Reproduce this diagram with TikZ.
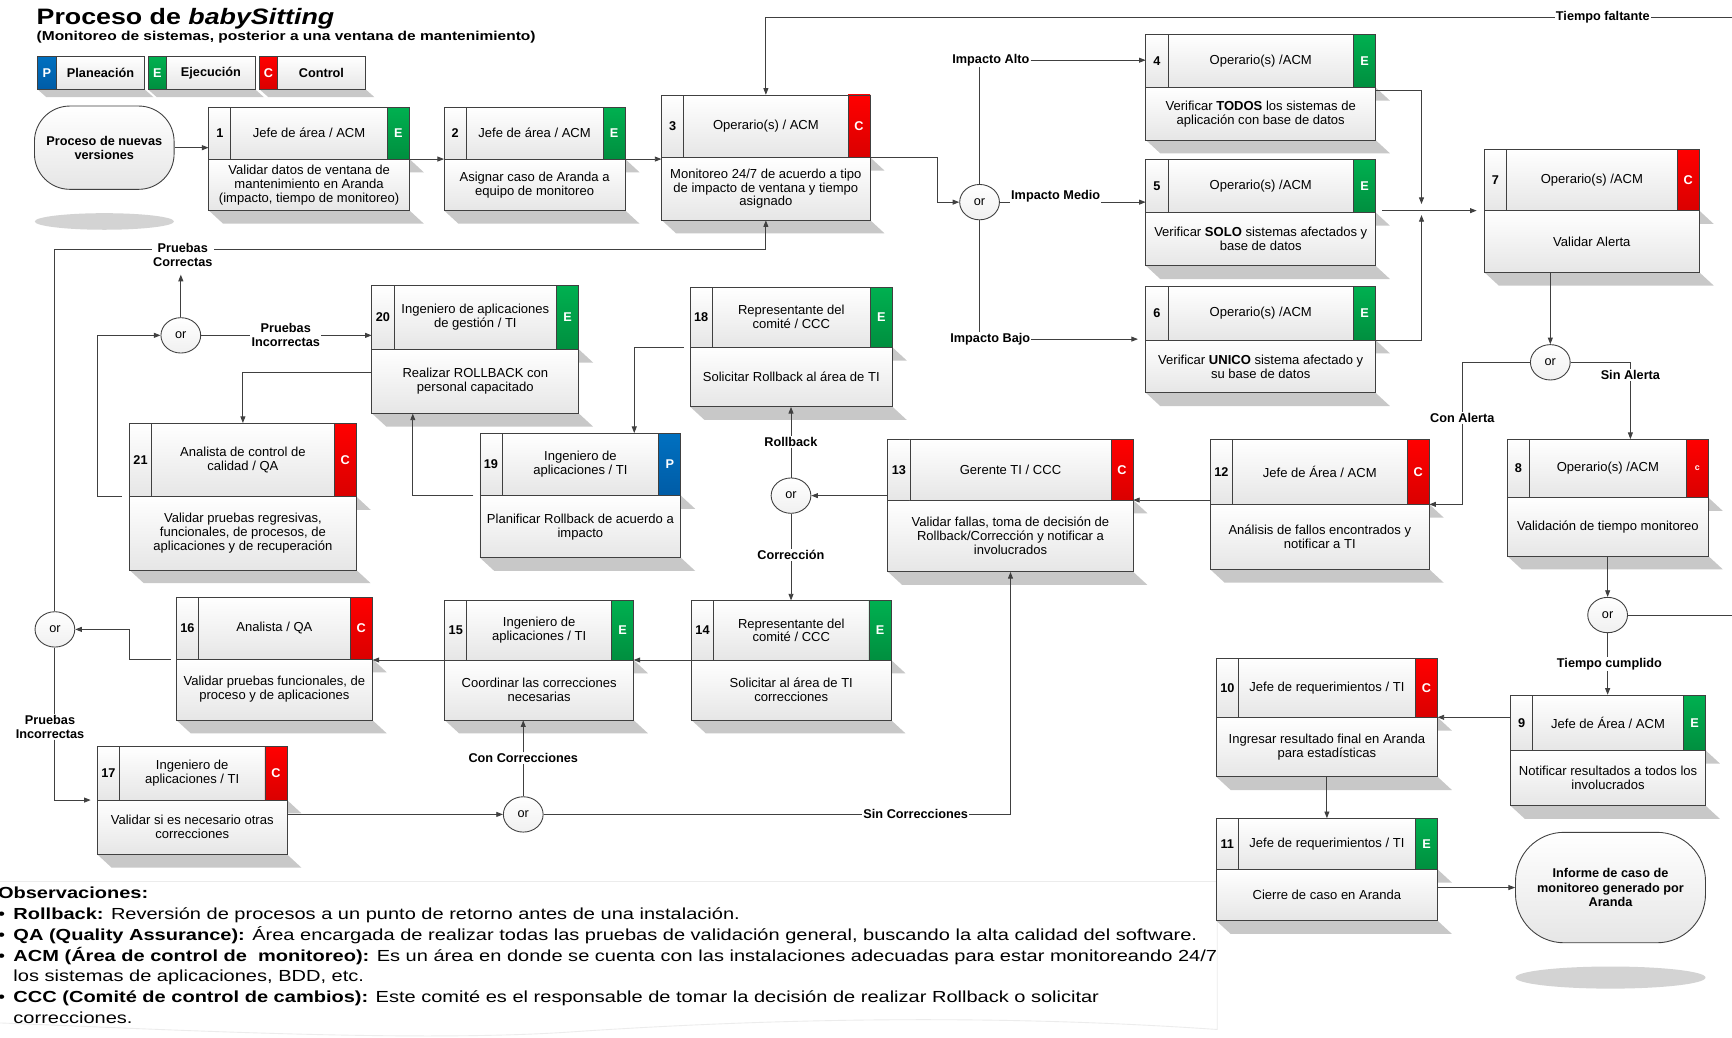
\documentclass[tikz,border=0pt]{standalone}
\usepackage{fontspec}
\setmainfont{Liberation Sans}
\newfontfamily\stretchfont[FakeStretch=1.2]{Liberation Sans}
\newfontfamily\obsfont[FakeStretch=1.25]{Liberation Sans}
\usetikzlibrary{arrows.meta,shapes.geometric,calc}
\definecolor{linec}{HTML}{404040}
\definecolor{shadowc}{HTML}{C8C8C8}
\definecolor{cellB}{HTML}{E6E6E6}
\definecolor{grnT}{HTML}{00B050}
\definecolor{grnB}{HTML}{008F3F}
\definecolor{redT}{HTML}{FF0000}
\definecolor{redB}{HTML}{DA0000}
\definecolor{bluT}{HTML}{0070C0}
\definecolor{bluB}{HTML}{005CA6}
\tikzset{
  conn/.style={draw=linec, line width=0.8pt},
  arr/.style={conn, -{Triangle[length=6pt,width=4.5pt]}},
  lbl/.style={font=\bfseries\fontsize{11.5}{12.5}\selectfont, inner sep=1pt, fill=white, align=center},
  orn/.style={ellipse, draw=linec, line width=0.8pt, top color=white, bottom color=cellB!60, minimum width=36pt, minimum height=32pt, inner sep=0pt, font=\fontsize{11.5}{12}\selectfont},
  cellf/.style={draw=linec, line width=0.8pt, top color=white, bottom color=cellB},
  tagE/.style={draw=linec, line width=0.8pt, top color=grnT, bottom color=grnB},
  tagC/.style={draw=linec, line width=0.8pt, top color=redT, bottom color=redB},
  tagc/.style={tagC},
  tagP/.style={draw=linec, line width=0.8pt, top color=bluT, bottom color=bluB},
  shad/.style={fill=shadowc},
  numt/.style={font=\bfseries\fontsize{11.5}{12}\selectfont, inner sep=0pt},
  titlet/.style={font=\fontsize{11.8}{12.6}\selectfont, align=center, inner sep=0pt},
  tagt/.style={font=\bfseries\fontsize{11.5}{12}\selectfont, text=white, inner sep=0pt},
  bodyt/.style={font=\fontsize{11.8}{12.6}\selectfont, align=center, inner sep=0pt},
  term/.style={draw=linec, line width=0.8pt, top color=white, bottom color=cellB, align=center, font=\bfseries\fontsize{11.5}{12.8}\selectfont, inner sep=0pt},
  legt/.style={font=\bfseries\fontsize{11.5}{12}\selectfont, inner sep=0pt},
  obsl/.style={anchor=base west, inner sep=0pt, font=\obsfont\fontsize{14.5}{19}\selectfont},
}
\def\tagletter#1{\if c#1{\fontsize{8}{9}\selectfont c}\else #1\fi}
\def\procbox#1(#2,#3,#4,#5,#6)#7#8#9{%
  \fill[shad] (#2,#4) -- (#6,#4) -- ({#6+13},{#4+12}) -- ({#2+13},{#4+12}) -- cycle;
  \fill[shad] (#2,#5) -- (#6,#5) -- ({#6+13},{#5+12}) -- ({#2+13},{#5+12}) -- cycle;
  \path[cellf] (#2,#4) rectangle (#6,#5);
  \path[cellf] (#2,#3) rectangle ({#2+20},#4);
  \path[cellf] ({#2+20},#3) rectangle ({#6-20},#4);
  \path[tag#7] ({#6-20},#3) rectangle (#6,#4);
  \node[draw=none, inner sep=0pt, minimum width={(#6-#2)*1pt}, minimum height={(#5-#3)*1pt}] (b#1) at ({(#2+#6)/2},{(#3+#5)/2}) {};
  \coordinate (b#1-dl) at (#2,#4);
  \coordinate (b#1-dr) at (#6,#4);
  \node[numt] (b#1-n) at ({#2+10},{(#3+#4)/2}) {#1};
  \node[titlet] (b#1-t) at ({(#2+#6)/2},{(#3+#4)/2}) {#8};
  \node[tagt] (b#1-g) at ({#6-10},{(#3+#4)/2}) {\tagletter{#7}};
  \node[bodyt] (b#1-b) at ({(#2+#6)/2},{(#4+#5)/2}) {#9};
}
\begin{document}
\begin{tikzpicture}[x=1pt,y=-1pt]
\useasboundingbox (0,0) rectangle (1568,939);
\clip (0,0) rectangle (1568,939);
\fill[white] (0,0) rectangle (1568,939);

% observations frame (faint)
\draw[gray!15, line width=0.8pt] (-2,798) -- (1102,798) -- (1102,932) .. controls (900,918) and (700,922) .. (520,934) .. controls (380,944) and (150,932) .. (-2,926);

% title
\node[anchor=base west, inner sep=0pt, font=\stretchfont\bfseries\fontsize{20.2}{24}\selectfont] (title) at (33,22.6) {Proceso de \textit{babySitting}};
\node[anchor=base west, inner sep=0pt, font=\stretchfont\bfseries\fontsize{11.7}{13}\selectfont] (subtitle) at (33,36.8) {(Monitoreo de sistemas, posterior a una ventana de mantenimiento)};

% legend
\fill[shad] (34,80.9) -- (131,80.9) -- (139,88) -- (42,88) -- cycle;
\fill[shad] (134,80.9) -- (231,80.9) -- (239,88) -- (142,88) -- cycle;
\fill[shad] (235,80.9) -- (331,80.9) -- (339,88) -- (243,88) -- cycle;
\path[tagP] (34,51.3) rectangle (51,80.9);
\path[cellf] (51,51.3) rectangle (131,80.9);
\path[tagE] (134,51.3) rectangle (151,80.9);
\path[cellf] (151,51.3) rectangle (231,80.9);
\path[tagC] (235,51.3) rectangle (251,80.9);
\path[cellf] (251,51.3) rectangle (331,80.9);
\node[tagt] (lgPt) at (42.5,66.1) {P};
\node[legt] (lgP) at (91,66.1) {Planeación};
\node[tagt] (lgEt) at (142.5,66.1) {E};
\node[legt] (lgE) at (191,66.1) {Ejecución};
\node[tagt] (lgCt) at (243,66.1) {C};
\node[legt] (lgC) at (291,66.1) {Control};

% terminals
\fill[shadowc!80] (94.5,200.5) ellipse [x radius=63, y radius=7.5];
\node[term, rounded corners=32pt, minimum width=126.4pt, minimum height=75.4pt] (start) at (94.4,133.7) {Proceso de nuevas\\versiones};
\fill[shadowc!80] (1458,885) ellipse [x radius=86, y radius=10];
\node[term, rounded corners=44pt, minimum width=172pt, minimum height=100pt] (end) at (1458,803.5) {Informe de caso de\\monitoreo generado por\\Aranda};

% boxes
\procbox{1}(189,97,144,190.5,370.7){E}{Jefe de área / ACM}{Validar datos de ventana de\\mantenimiento en Aranda\\(impacto, tiempo de monitoreo)}
\procbox{2}(402,97,144,190.5,566){E}{Jefe de área / ACM}{Asignar caso de Aranda a\\equipo de monitoreo}
\procbox{3}(599,86,142.4,199.2,787.7){C}{Operario(s) / ACM}{Monitoreo 24/7 de acuerdo a tipo\\de impacto de ventana y tiempo\\asignado}
\procbox{4}(1037.4,30.8,79.1,126.8,1245.3){E}{Operario(s) /ACM}{Verificar \textbf{TODOS} los sistemas de\\aplicación con base de datos}
\procbox{5}(1037.4,144.3,192.3,240.6,1245.3){E}{Operario(s) /ACM}{Verificar \textbf{SOLO} sistemas afectados y\\base de datos}
\procbox{6}(1037.4,259.6,307.9,355.6,1245.3){E}{Operario(s) /ACM}{Verificar \textbf{UNICO} sistema afectado y\\su base de datos}
\procbox{7}(1343.8,135.2,190.7,246.5,1538.4){C}{Operario(s) /ACM}{Validar Alerta}
\procbox{8}(1364.6,397.7,450.5,503.4,1546.6){c}{Operario(s) /ACM}{Validación de tiempo monitoreo}
\procbox{9}(1367.5,629.2,679.3,729.4,1544.1){E}{Jefe de Área / ACM}{Notificar resultados a todos los\\involucrados}
\procbox{10}(1101.1,596,649.4,703.2,1301.4){C}{Jefe de requerimientos / TI}{Ingresar resultado final en Aranda\\para estadísticas}
\procbox{11}(1101.1,740.9,787,833.5,1301.4){E}{Jefe de requerimientos / TI}{Cierre de caso en Aranda}
\procbox{12}(1095.7,397.8,456.6,515.5,1294){C}{Jefe de Área / ACM}{Análisis de fallos encontrados y\\notificar a TI}
\procbox{13}(803.8,397.7,452.7,517.6,1025.8){C}{Gerente TI / CCC}{Validar fallas, toma de decisión de\\Rollback/Corrección y notificar a\\involucrados}
\procbox{14}(626,543.8,597.5,651.9,806.7){E}{Representante del\\comité / CCC}{Solicitar al área de TI\\correcciones}
\procbox{15}(402.6,543.8,597.5,651.9,573.6){E}{Ingeniero de\\aplicaciones / TI}{Coordinar las correcciones\\necesarias}
\procbox{16}(159.7,540.8,596.6,651.9,337.1){C}{Analista / QA}{Validar pruebas funcionales, de\\proceso y de aplicaciones}
\procbox{17}(88.1,676,724.3,773.5,259.9){C}{Ingeniero de\\aplicaciones / TI}{Validar si es necesario otras\\correcciones}
\procbox{18}(624.8,260.1,314.4,368.2,807.9){E}{Representante del\\comité / CCC}{Solicitar Rollback al área de TI}
\procbox{19}(434.5,392.3,448.7,504.9,616.4){P}{Ingeniero de\\aplicaciones / TI}{Planificar Rollback de acuerdo a\\impacto}
\procbox{20}(336.7,258.6,316.2,374.2,523.9){E}{Ingeniero de aplicaciones\\de gestión / TI}{Realizar ROLLBACK con\\personal capacitado}
\procbox{21}(117.2,383.2,449.6,516,322.6){C}{Analista de control de\\calidad / QA}{Validar pruebas regresivas,\\funcionales, de procesos, de\\aplicaciones y de recuperación}

% or gates
\node[orn] (or1) at (886.8,183) {or};
\node[orn] (or2) at (1403.5,328) {or};
\node[orn] (or3) at (1455.4,556.8) {or};
\node[orn] (or4) at (716.1,448.7) {or};
\node[orn] (or5) at (163.7,303.6) {or};
\node[orn] (or6) at (49.7,569.8) {or};
\node[orn] (or7) at (473.7,737.3) {or};

% labels that end connectors
\node[lbl] (lAlto) at (897,54.5) {Impacto Alto};
\node[lbl] (lBajo) at (896.5,307) {Impacto Bajo};
\node[lbl] (lTF) at (1451,15.7) {Tiempo faltante};
\node[lbl] (lCon) at (1323.8,378) {Con Alerta};
\node[lbl] (lSin) at (1476,339.5) {Sin Alerta};
\node[lbl] (lTC) at (1457,601) {Tiempo cumplido};
\node[lbl] (lRB) at (716,400) {Rollback};
\node[lbl] (lCor) at (716,502.5) {Corrección};
\node[lbl] (lPI2) at (45.3,658) {Pruebas\\Incorrectas};
\node[lbl] (lCC) at (473.7,686.6) {Con Correcciones};
\node[lbl] (lSC) at (829,737.3) {Sin Correcciones};
\coordinate (j) at (1286.9,190.7);
\coordinate (offr) at (1600,15.7);
\coordinate (pcl) at (49.7,225.4);

% connectors
\draw[arr] (start.east) -- (start.east -| b1.west);
\draw[arr] (b1-dr) -- (b2-dl);
\draw[arr] (b2-dr) -- (b2-dr -| b3.west);
\draw[arr] (b3-dr) -- ++(60.7,0) |- (or1.west);
\draw[conn] (or1.north) -- (or1.north |- lAlto.south);
\draw[arr] (lAlto.east) -- (lAlto.east -| b4.west);
\draw[arr] (or1.east) -- (or1.east -| b5.west);
\draw[conn] (or1.south) -- (or1.south |- lBajo.north);
\draw[arr, shorten >=7pt] (lBajo.east) -- (lBajo.east -| b6.west);
\draw[arr] ($(b4-dr)+(0,3)$) -| ($(j)+(0,-6)$);
\draw[arr] (b6-dr) -| ($(j)+(0,4)$);
\draw[arr, shorten >=7pt] ($(b7-dl -| b5.east)+(6,0)$) -- (b7-dl);
\draw[arr] (or2.north |- b7.south) -- (or2.north);
\draw[conn] (or2.west) -| (lCon.north);
\draw[arr] (lCon.south) |- (b12-dr);
\draw[conn] (or2.east) -| (lSin.north);
\draw[arr] (lSin.south) -- (lSin.south |- b8.north);
\draw[arr] (or3.north |- b8.south) -- (or3.north);
\draw[conn] (or3.east) -| (offr) -- (lTF.east);
\draw[arr] (lTF.west) -| (b3.north);
\draw[conn] (or3.south) -- (or3.south |- lTC.north);
\draw[arr] (or3.south |- lTC.south) -- (or3.south |- b9.north);
\draw[arr] (b10-dr -| b9.west) -- (b10-dr);
\draw[arr] (b10.south) -- (b11.north);
\draw[arr] (end.west -| b11.east) -- (end.west);
\draw[arr] (b13-dr -| b12.west) -- (b13-dr);
\draw[arr] (or4.east -| b13.west) -- (or4.east);
\draw[conn] (or4.north) -- (or4.north |- lRB.south);
\draw[arr] (or4.north |- lRB.north) -- (or4.north |- b18.south);
\draw[conn] (or4.south) -- (or4.south |- lCor.north);
\draw[arr] (or4.south |- lCor.south) -- (or4.south |- b14.north);
\draw[arr] (b15-dr -| b14.west) -- (b15-dr);
\draw[arr] (b15-dl) -- (b15-dl -| b16.east);
\draw[arr] ($(b16-dl)+(-5,0)$) -| ($(or6.east)+(49.5,0)$) -- (or6.east);
\draw[arr] (or6.north) -- (pcl) -| (b3.south);
\draw[conn] (or6.south) -- (or6.south |- lPI2.north);
\draw[arr, shorten >=6pt] (or6.south |- lPI2.south) |- (b17-dl);
\draw[arr] (or7.west -| b17.east) -- (or7.west);
\draw[conn] (or7.north) -- (or7.north |- lCC.south);
\draw[arr] (or7.north |- lCC.north) -- (or7.north |- b15.south);
\draw[conn] (or7.east) -- (lSC.west);
\draw[arr] (lSC.east) -| (b13.south);
\draw[arr] ($(b21-dl)+(-7,0)$) -| ($(or5.west)+(-57.4,0)$) -- (or5.west);
\draw[arr] (or5.east) -- (or5.east -| b20.west);
\draw[arr] ($(b20-dl)+(0,21)$) -| (b21.north);
\draw[arr] ($(b19-dl)+(-6,0)$) -| ($(b20.south west)+(37.2,0)$);
\draw[arr] ($(b18-dl)+(-6,0)$) -| ($(b19.north east)+(-42.4,0)$);

% labels placed over connectors
\node[lbl] (lMedio) at (955.7,178) {Impacto Medio};
\node[lbl] (lPC) at (165.5,231) {Pruebas\\Correctas};
\node[lbl] (lPI) at (258.7,303.6) {Pruebas\\Incorrectas};
\draw[arr, shorten >=6pt] (or5.north) -- (or5.north |- lPC.south);

% observations
\node[obsl] (oT) at (-2,813.5) {\bfseries Observaciones:};
\node[obsl] (ob1) at (-2,832) {•};
\node[obsl] (o1) at (12,832) {\textbf{Rollback:} Reversión de procesos a un punto de retorno antes de una instalación.};
\node[obsl] (ob2) at (-2,851) {•};
\node[obsl] (o2) at (12,851) {\textbf{QA (Quality Assurance):} Área encargada de realizar todas las pruebas de validación general, buscando la alta calidad del software.};
\node[obsl] (ob3) at (-2,870) {•};
\node[obsl] (o3) at (12,870) {\textbf{ACM (Área de control de \ monitoreo):} Es un área en donde se cuenta con las instalaciones adecuadas para estar monitoreando 24/7};
\node[obsl] (o3b) at (12,889) {los sistemas de aplicaciones, BDD, etc.};
\node[obsl] (ob4) at (-2,908) {•};
\node[obsl] (o4) at (12,908) {\textbf{CCC (Comité de control de cambios):} Este comité es el responsable de tomar la decisión de realizar Rollback o solicitar};
\node[obsl] (o4b) at (12,926.5) {correcciones.};
\end{tikzpicture}
\end{document}
